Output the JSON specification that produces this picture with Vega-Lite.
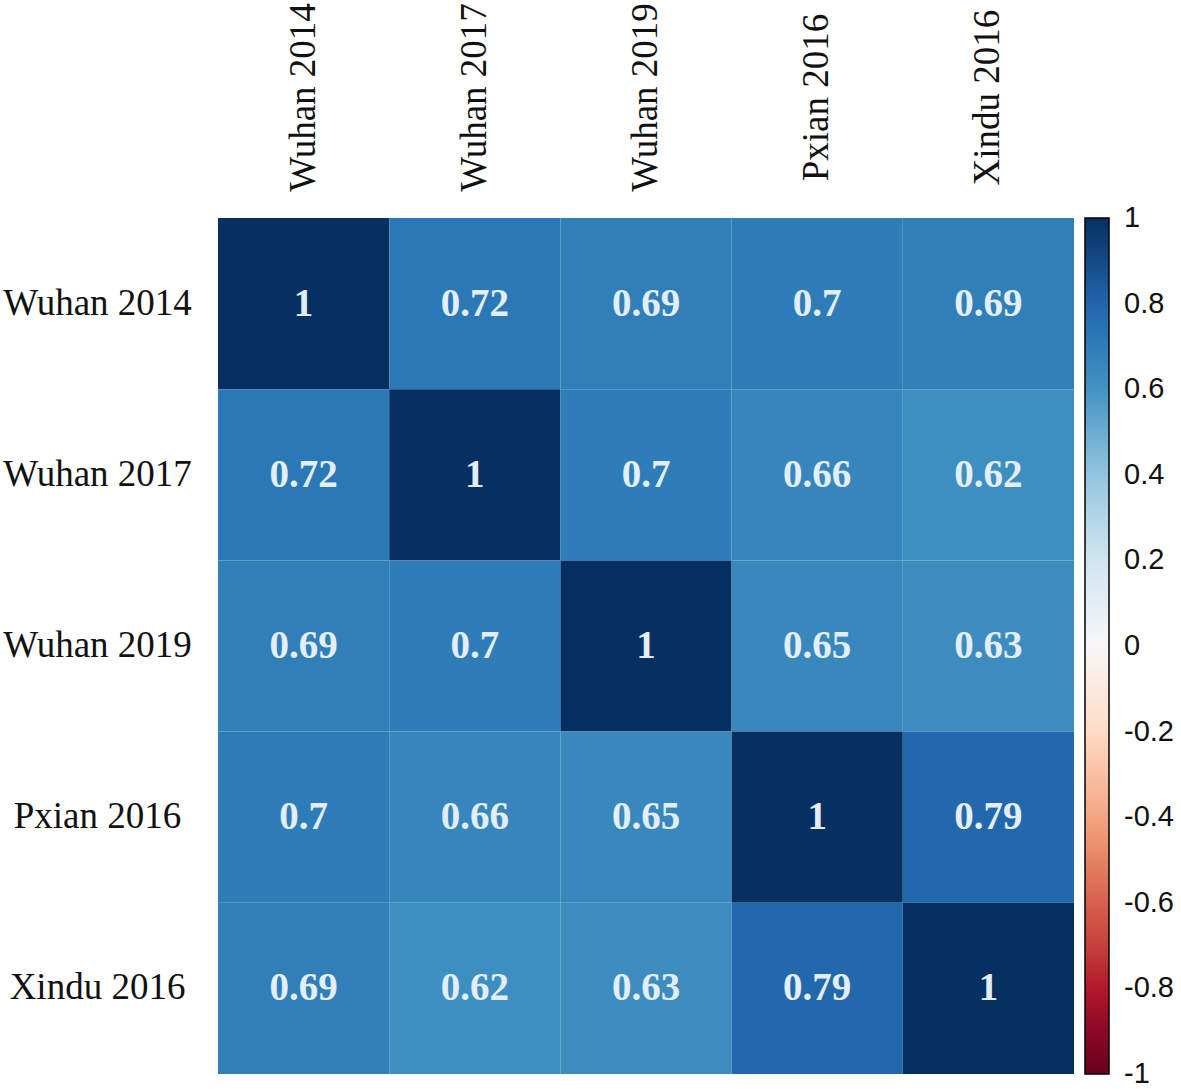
{
  "$schema": "https://vega.github.io/schema/vega-lite/v6.json",
  "width": 856,
  "height": 856,
  "autosize": "none",
  "padding": {"left": 218, "top": 218, "right": 107, "bottom": 15},
  "background": "white",
  "data": {"values": [
    {"row": "Wuhan 2014", "col": "Wuhan 2014", "v": 1},
    {"row": "Wuhan 2014", "col": "Wuhan 2017", "v": 0.72},
    {"row": "Wuhan 2014", "col": "Wuhan 2019", "v": 0.69},
    {"row": "Wuhan 2014", "col": "Pxian 2016", "v": 0.7},
    {"row": "Wuhan 2014", "col": "Xindu 2016", "v": 0.69},
    {"row": "Wuhan 2017", "col": "Wuhan 2014", "v": 0.72},
    {"row": "Wuhan 2017", "col": "Wuhan 2017", "v": 1},
    {"row": "Wuhan 2017", "col": "Wuhan 2019", "v": 0.7},
    {"row": "Wuhan 2017", "col": "Pxian 2016", "v": 0.66},
    {"row": "Wuhan 2017", "col": "Xindu 2016", "v": 0.62},
    {"row": "Wuhan 2019", "col": "Wuhan 2014", "v": 0.69},
    {"row": "Wuhan 2019", "col": "Wuhan 2017", "v": 0.7},
    {"row": "Wuhan 2019", "col": "Wuhan 2019", "v": 1},
    {"row": "Wuhan 2019", "col": "Pxian 2016", "v": 0.65},
    {"row": "Wuhan 2019", "col": "Xindu 2016", "v": 0.63},
    {"row": "Pxian 2016", "col": "Wuhan 2014", "v": 0.7},
    {"row": "Pxian 2016", "col": "Wuhan 2017", "v": 0.66},
    {"row": "Pxian 2016", "col": "Wuhan 2019", "v": 0.65},
    {"row": "Pxian 2016", "col": "Pxian 2016", "v": 1},
    {"row": "Pxian 2016", "col": "Xindu 2016", "v": 0.79},
    {"row": "Xindu 2016", "col": "Wuhan 2014", "v": 0.69},
    {"row": "Xindu 2016", "col": "Wuhan 2017", "v": 0.62},
    {"row": "Xindu 2016", "col": "Wuhan 2019", "v": 0.63},
    {"row": "Xindu 2016", "col": "Pxian 2016", "v": 0.79},
    {"row": "Xindu 2016", "col": "Xindu 2016", "v": 1}
  ]},
  "encoding": {
    "x": {
      "field": "col", "type": "nominal",
      "sort": ["Wuhan 2014", "Wuhan 2017", "Wuhan 2019", "Pxian 2016", "Xindu 2016"],
      "scale": {"paddingInner": 0, "paddingOuter": 0},
      "axis": {
        "orient": "top", "title": null, "ticks": false, "domain": false,
        "labelAngle": -90, "labelAlign": "center", "labelBaseline": "middle",
        "labelPadding": 121, "labelFont": "Liberation Serif", "labelFontSize": 37,
        "labelColor": "#111111", "labelLimit": 0
      }
    },
    "y": {
      "field": "row", "type": "nominal",
      "sort": ["Wuhan 2014", "Wuhan 2017", "Wuhan 2019", "Pxian 2016", "Xindu 2016"],
      "scale": {"paddingInner": 0, "paddingOuter": 0},
      "axis": {
        "title": null, "ticks": false, "domain": false,
        "labelAlign": "center", "labelBaseline": "middle",
        "labelPadding": 121, "labelFont": "Liberation Serif", "labelFontSize": 37,
        "labelColor": "#111111", "labelLimit": 0
      }
    }
  },
  "layer": [
    {
      "mark": {"type": "rect"},
      "encoding": {
        "color": {
          "field": "v", "type": "quantitative",
          "scale": {
            "domain": [-1, -0.8, -0.6, -0.4, -0.2, 0, 0.2, 0.4, 0.6, 0.8, 1],
            "range": ["#67001f", "#b2182b", "#d6604d", "#f4a582", "#fddbc7", "#f7f7f7", "#d1e5f0", "#92c5de", "#4393c3", "#2166ac", "#053061"]
          },
          "legend": {
            "title": null,
            "orient": "right",
            "offset": 11,
            "direction": "vertical",
            "gradientLength": 856,
            "gradientThickness": 24,
            "gradientStrokeColor": "black",
            "gradientStrokeWidth": 1.5,
            "values": [-1, -0.8, -0.6, -0.4, -0.2, 0, 0.2, 0.4, 0.6, 0.8, 1],
            "format": "~g",
            "labelExpr": "replace(datum.label, '\u2212', '-')",
            "labelOverlap": false,
            "labelLimit": 0,
            "labelFont": "Liberation Sans",
            "labelFontSize": 29,
            "labelColor": "#111111",
            "labelOffset": 15,
            "encode": {"labels": {"update": {"baseline": {"value": "middle"}}}}
          }
        }
      }
    },
    {
      "mark": {"type": "text", "font": "Liberation Serif", "fontWeight": "bold", "fontSize": 39, "color": "#e3eef9", "baseline": "middle", "align": "center"},
      "encoding": {
        "text": {"field": "v", "type": "quantitative"}
      }
    }
  ],
  "config": {"view": {"stroke": null}}
}
